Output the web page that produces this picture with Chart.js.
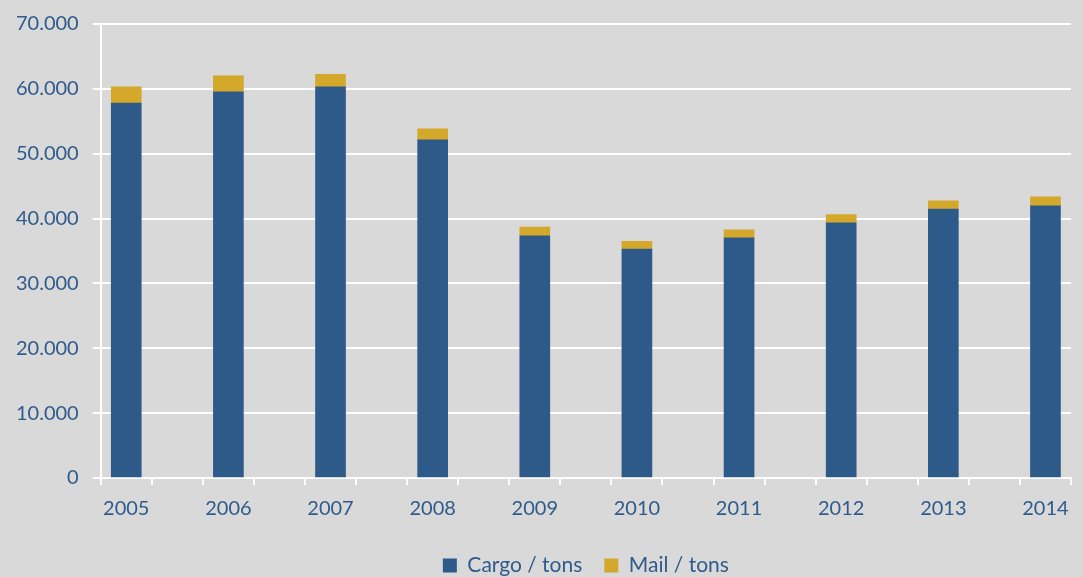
<!DOCTYPE html>
<html>
<head>
<meta charset="utf-8">
<script src="https://cdn.jsdelivr.net/npm/chart.js@4"></script>
<style>
  html, body { margin: 0; padding: 0; background: #d9d9d9; }
  #wrap { width: 1083px; height: 577px; position: relative; }
</style>
</head>
<body>
<div id="wrap"><canvas id="c"></canvas></div>
<script>
const categories = ['2005','2006','2007','2008','2009','2010','2011','2012','2013','2014'];
const cargoTons = [57800, 59550, 60320, 52150, 37330, 35280, 37020, 39340, 41450, 41960];
const mailTons  = [2500, 2450, 1920, 1700, 1340, 1230, 1230, 1290, 1280, 1390];
const yTicks = [0, 10000, 20000, 30000, 40000, 50000, 60000, 70000];

const TEXT = '#2f5b8c';
const BLUE = '#2e5a8a';
const GOLD = '#d4a82a';

function fmt(v) {
  return String(Math.round(v)).replace(/\B(?=(\d{3})+(?!\d))/g, '.');
}

const toPoints = arr => arr.map((v, i) => ({ x: i, y: v }));

new Chart(document.getElementById('c'), {
  type: 'bar',
  data: {
    datasets: [
      { label: 'Cargo / tons', data: toPoints(cargoTons), backgroundColor: BLUE, barThickness: 30 },
      { label: 'Mail / tons', data: toPoints(mailTons), backgroundColor: GOLD, barThickness: 30 }
    ]
  },
  options: {
    responsive: true,
    maintainAspectRatio: false,
    animation: false,
    layout: { padding: { left: 2, right: 0, top: 4, bottom: -9 } },
    font: { family: 'Lato' },
    scales: {
      x: {
        type: 'linear',
        offset: false,
        stacked: true,
        min: -0.25,
        max: 9.25,
        afterBuildTicks: axis => {
          const t = [];
          for (let k = 0; k <= 38; k++) t.push({ value: -0.25 + k * 0.25 });
          axis.ticks = t;
        },
        border: { display: true, color: '#ffffff', width: 2 },
        grid: {
          offset: false,
          drawOnChartArea: false,
          drawTicks: true,
          tickLength: 7,
          lineWidth: 2,
          color: ctx => {
            const v = ctx.tick ? ctx.tick.value : 0;
            const q = Math.round((v + 0.25) / 0.25);
            return (q % 2 === 0) ? '#ffffff' : 'rgba(0,0,0,0)';
          }
        },
        ticks: {
          autoSkip: false,
          maxRotation: 0,
          padding: 12,
          color: TEXT,
          font: { family: 'Lato', size: 20 },
          callback: v => {
            const r = Math.round(v);
            return Math.abs(v - r) < 1e-6 && categories[r] !== undefined ? categories[r] : '';
          }
        }
      },
      y: {
        stacked: true,
        min: 0,
        max: 70000,
        afterBuildTicks: axis => { axis.ticks = yTicks.map(v => ({ value: v })); },
        border: { display: true, color: '#ffffff', width: 2 },
        grid: { color: '#ffffff', lineWidth: 2, tickLength: 8 },
        ticks: {
          padding: 14,
          color: TEXT,
          font: { family: 'Lato', size: 20, lineHeight: 1 },
          callback: v => fmt(v)
        }
      }
    },
    plugins: {
      legend: {
        position: 'bottom',
        fullSize: false,
        labels: {
          color: TEXT,
          font: { family: 'Lato', size: 21 },
          boxWidth: 14,
          boxHeight: 14,
          padding: 22
        }
      },
      tooltip: { enabled: false }
    }
  }
});
</script>
</body>
</html>
